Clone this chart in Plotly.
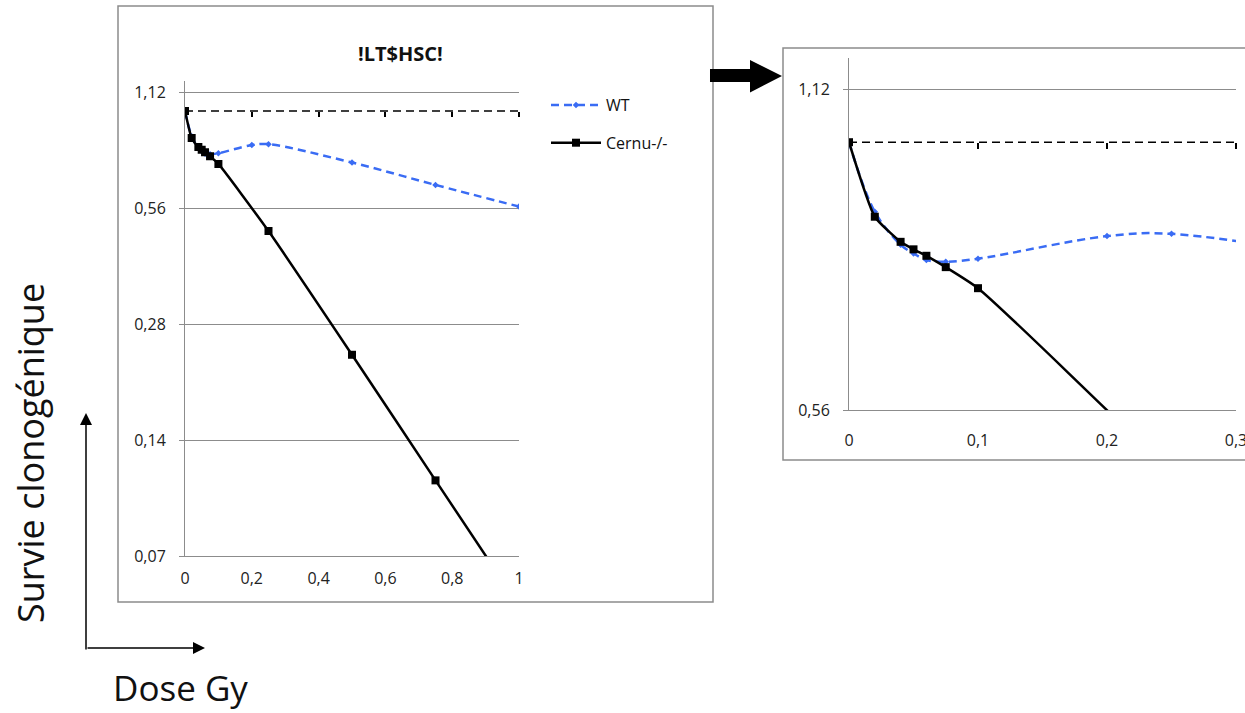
import math
import plotly.graph_objects as go

# ---------------- data ----------------
dose_cernu = [0, 0.02, 0.04, 0.05, 0.06, 0.075, 0.1, 0.25, 0.5, 0.75, 1.0]
surv_cernu = [1.0, 0.851, 0.806, 0.793, 0.782, 0.763, 0.729, 0.488, 0.233, 0.110, 0.052]

dose_wt = [0, 0.02, 0.04, 0.05, 0.06, 0.075, 0.1, 0.2, 0.25, 0.5, 0.75, 1.0]
surv_wt = [1.0, 0.860, 0.801, 0.786, 0.775, 0.772, 0.777, 0.816, 0.820, 0.735, 0.643, 0.565]

baseline = 1.0

y_ticks_left = [0.07, 0.14, 0.28, 0.56, 1.12]
y_ticktext_left = ["0,07", "0,14", "0,28", "0,56", "1,12"]
x_ticks_left = [0, 0.2, 0.4, 0.6, 0.8, 1.0]
x_ticktext_left = ["0", "0,2", "0,4", "0,6", "0,8", "1"]

y_ticks_right = [0.56, 1.12]
y_ticktext_right = ["0,56", "1,12"]
x_ticks_right = [0, 0.1, 0.2, 0.3]
x_ticktext_right = ["0", "0,1", "0,2", "0,3"]

title_text = "!LT$HSC!"
ylabel_text = "Survie clonogénique"
xlabel_text = "Dose Gy"

# ---------------- layout helpers ----------------
W, H = 1245, 713


def px(x):
    return x / W


def py(y):
    return 1 - y / H


BLUE = "#3a6cf4"
GREY = "#8c8c8c"
FONT = "Open Sans"

y_left_range = [0.07, 1.2]
x_left_range = [0, 1.0]
y_right_range = [0.56, 1.2]
x_right_range = [0, 0.3]

left_dom_x = [px(185), px(519)]
left_dom_y = [py(556), py(80.5)]
right_dom_x = [px(849), px(1236)]
right_dom_y = [py(410), py(58)]


def baseline_pos(dom, rng):
    lo, hi = math.log10(rng[0]), math.log10(rng[1])
    f = (math.log10(baseline) - lo) / (hi - lo)
    return dom[0] + f * (dom[1] - dom[0])


fig = go.Figure()

panels = [("x3", "y", "x", x_left_range, True), ("x4", "y2", "x2", x_right_range, False)]
for base_x, ya, xa, xr, show in panels:
    # dashed horizontal axis crossing at survival = 1 (carries the tick marks)
    fig.add_trace(go.Scatter(
        x=[xr[0], xr[1]], y=[baseline, baseline], xaxis=base_x, yaxis=ya,
        mode="lines", line=dict(color="black", width=1.5, dash="8px,5px"),
        showlegend=False, hoverinfo="skip"))
    fig.add_trace(go.Scatter(
        x=dose_wt, y=surv_wt, xaxis=xa, yaxis=ya, name="WT",
        legendgroup="wt", showlegend=show,
        mode="lines+markers",
        line=dict(color=BLUE, width=2.5, dash="8px,5px", shape="spline", smoothing=1.0),
        marker=dict(color=BLUE, size=5, symbol="diamond")))
    fig.add_trace(go.Scatter(
        x=dose_cernu, y=surv_cernu, xaxis=xa, yaxis=ya, name="Cernu-/-",
        legendgroup="cernu", showlegend=show,
        mode="lines+markers",
        line=dict(color="black", width=2.5, shape="spline", smoothing=0.5),
        marker=dict(color="black", size=8, symbol="square")))

tickfont = dict(family=FONT, size=16, color="#222222")

common_x = dict(showgrid=False, zeroline=False, showline=True, linecolor=GREY,
                linewidth=1, ticks="", tickfont=tickfont, automargin=False,
                ticklabeloverflow="allow")
common_y = dict(type="log", showgrid=True, gridcolor=GREY, gridwidth=1,
                zeroline=False, showline=True, linecolor=GREY, linewidth=1,
                ticks="outside", ticklen=5, tickcolor=GREY, tickfont=tickfont,
                ticklabelstandoff=10, automargin=False)
tick_axis = dict(anchor="free", ticks="outside", tickwidth=1.5, tickcolor="black",
                 showticklabels=False, showgrid=False, showline=False,
                 zeroline=False, side="bottom")

fig.update_layout(
    width=W, height=H,
    margin=dict(l=0, r=0, t=0, b=0),
    paper_bgcolor="white", plot_bgcolor="white",
    template="none",
    xaxis=dict(common_x, domain=left_dom_x, range=x_left_range, anchor="y",
               tickvals=x_ticks_left, ticktext=x_ticktext_left, ticklabelstandoff=8),
    yaxis=dict(common_y, domain=left_dom_y, anchor="x",
               range=[math.log10(v) for v in y_left_range],
               tickvals=y_ticks_left, ticktext=y_ticktext_left),
    xaxis2=dict(common_x, domain=right_dom_x, range=x_right_range, anchor="y2",
                tickvals=x_ticks_right, ticktext=x_ticktext_right, ticklabelstandoff=16),
    yaxis2=dict(common_y, domain=right_dom_y, anchor="x2",
                range=[math.log10(v) for v in y_right_range],
                tickvals=y_ticks_right, ticktext=y_ticktext_right),
    xaxis3=dict(tick_axis, overlaying="x", domain=left_dom_x,
                position=baseline_pos(left_dom_y, y_left_range),
                range=x_left_range, tickvals=x_ticks_left[1:], ticklen=5),
    xaxis4=dict(tick_axis, overlaying="x2", domain=right_dom_x,
                position=baseline_pos(right_dom_y, y_right_range),
                range=x_right_range, tickvals=x_ticks_right[1:], ticklen=6),
    legend=dict(x=px(546), y=py(88), xanchor="left", yanchor="top",
                font=dict(family=FONT, size=16, color="#111111"),
                bgcolor="rgba(0,0,0,0)", itemwidth=50, tracegroupgap=14),
    showlegend=True,
)

# frames
fig.add_shape(type="rect", xref="paper", yref="paper",
              x0=px(118), x1=px(713), y0=py(602), y1=py(6),
              line=dict(color=GREY, width=1.5), layer="below")
fig.add_shape(type="rect", xref="paper", yref="paper",
              x0=px(783), x1=px(1260), y0=py(460), y1=py(48),
              line=dict(color=GREY, width=1.5), layer="below")

# big block arrow
pts = [(710, 69), (750, 69), (750, 60), (782, 76), (750, 92.5), (750, 82), (710, 82)]
path = "M " + " L ".join(f"{px(x):.5f},{py(y):.5f}" for x, y in pts) + " Z"
fig.add_shape(type="path", xref="paper", yref="paper", path=path,
              fillcolor="black", line=dict(color="black", width=0))

# small axis arrows
fig.add_annotation(x=px(86), y=py(413), xref="paper", yref="paper",
                   ax=0, ay=238, axref="pixel", ayref="pixel", text="",
                   showarrow=True, arrowhead=2, arrowsize=1.6, arrowwidth=1.5,
                   arrowcolor="black")
fig.add_annotation(x=px(205), y=py(648), xref="paper", yref="paper",
                   ax=-119, ay=0, axref="pixel", ayref="pixel", text="",
                   showarrow=True, arrowhead=2, arrowsize=1.6, arrowwidth=1.5,
                   arrowcolor="black")

# texts
fig.add_annotation(x=px(400), y=py(53), xref="paper", yref="paper",
                   xanchor="center", yanchor="middle",
                   text=f"<b>{title_text}</b>", showarrow=False,
                   font=dict(family=FONT, size=20, color="#111111"))
fig.add_annotation(x=px(30), y=py(453), xref="paper", yref="paper",
                   xanchor="center", yanchor="middle",
                   text=ylabel_text, showarrow=False, textangle=-90,
                   font=dict(family=FONT, size=36, color="#111111"))
fig.add_annotation(x=px(180), y=py(687), xref="paper", yref="paper",
                   xanchor="center", yanchor="middle",
                   text=xlabel_text, showarrow=False,
                   font=dict(family=FONT, size=35, color="#111111"))

fig.write_html("out.html")
